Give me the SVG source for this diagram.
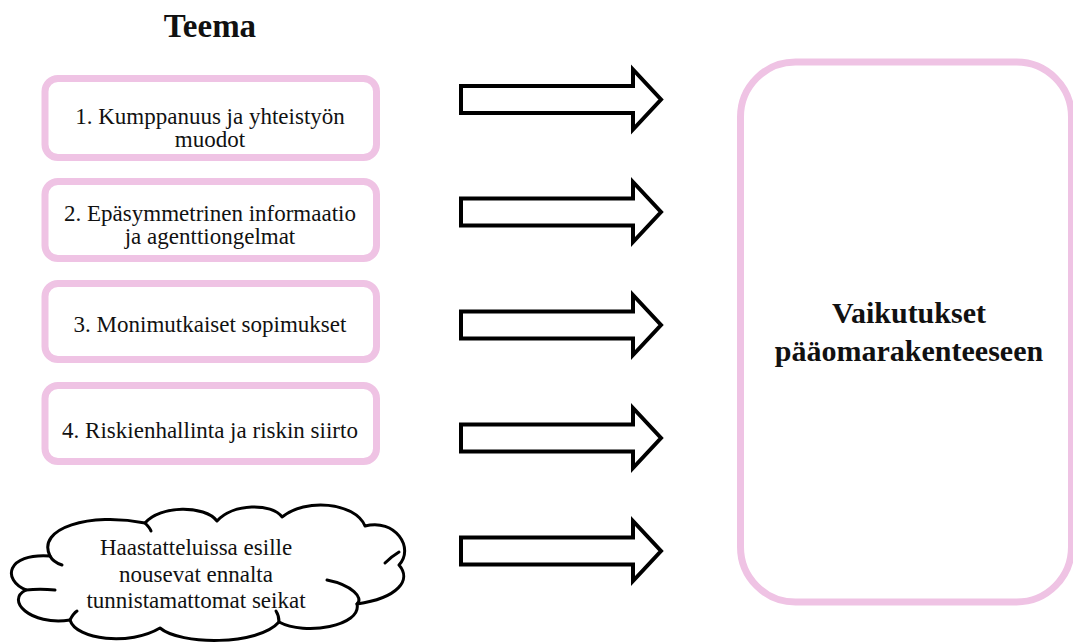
<svg xmlns="http://www.w3.org/2000/svg" width="1073" height="644" viewBox="0 0 1073 644">
  <style>
    .box { fill: #ffffff; stroke: #EFC3E4; stroke-width: 7; }
    .txt { font-family: "Liberation Serif", "Times New Roman", serif; font-size: 23px; fill: #111111; text-anchor: middle; }
    .bold { font-family: "Liberation Serif", "Times New Roman", serif; font-weight: bold; fill: #111111; text-anchor: middle; }
    .arrow { fill: #ffffff; stroke: #000000; stroke-width: 4; stroke-linejoin: miter; }
    .cloud { fill: #ffffff; stroke: #000000; stroke-width: 3; stroke-linecap: round; stroke-linejoin: round; }
    .hook { fill: none; stroke: #000000; stroke-width: 3; stroke-linecap: round; }
  </style>
  <defs>
    <path id="arr" d="M461,-13.5 H633 V-30 L661,0 L633,30 V13.5 H461 Z"/>
  </defs>
  <rect width="1073" height="644" fill="#ffffff"/>

  <g id="title">
    <text class="bold" x="210" y="37" font-size="33">Teema</text>
  </g>

  <g id="node1">
    <rect class="box" x="45" y="78.5" width="331.5" height="79" rx="13"/>
    <text class="txt" x="210" y="124">1. Kumppanuus ja yhteistyön</text>
    <text class="txt" x="210" y="147">muodot</text>
  </g>
  <g id="node2">
    <rect class="box" x="45" y="181.5" width="331.5" height="77" rx="13"/>
    <text class="txt" x="210" y="221">2. Epäsymmetrinen informaatio</text>
    <text class="txt" x="210" y="244">ja agenttiongelmat</text>
  </g>
  <g id="node3">
    <rect class="box" x="45" y="283.5" width="331.5" height="76" rx="13"/>
    <text class="txt" x="210" y="332">3. Monimutkaiset sopimukset</text>
  </g>
  <g id="node4">
    <rect class="box" x="45" y="385.5" width="331.5" height="76" rx="13"/>
    <text class="txt" x="210" y="438">4. Riskienhallinta ja riskin siirto</text>
  </g>

  <g id="node5">
    <path class="cloud" d="M50,556 C36,528 90,512 145,523 C160,505 205,505 217,521 C233,503 272,503 282,517 C305,498 355,502 365,526 C395,518 415,548 399,565 C412,580 398,598 357,604 C362,626 305,636 279,622 C258,646 180,645 160,628 C130,646 76,640 70,620 C30,626 5,600 26,590 C2,580 6,553 50,556 Z"/>
    <path class="hook" d="M50,556 C52,560 56,563 62,565"/>
    <path class="hook" d="M145,523 C148,526 150,528 151,531"/>
    <path class="hook" d="M26,590 C35,589 45,589 55,590"/>
    <path class="hook" d="M70,620 C72,616 74,613 77,611"/>
    <path class="hook" d="M385,563 C390,558 394,555 399,552"/>
    <path class="hook" d="M327,580 C352,585 364,598 357,604"/>
    <path class="hook" d="M279,622 C279,617 278,614 276,611"/>
    <text class="txt" x="196" y="555">Haastatteluissa esille</text>
    <text class="txt" x="196" y="582">nousevat ennalta</text>
    <text class="txt" x="196" y="608">tunnistamattomat seikat</text>
  </g>

  <g id="node6">
    <rect class="box" x="740.5" y="62" width="331" height="540" rx="55"/>
    <text class="bold" x="909" y="323" font-size="30">Vaikutukset</text>
    <text class="bold" x="909" y="361" font-size="30">pääomarakenteeseen</text>
  </g>

  <g id="connectors">
    <use href="#arr" class="arrow" y="99.5"/>
    <use href="#arr" class="arrow" y="212"/>
    <use href="#arr" class="arrow" y="325"/>
    <use href="#arr" class="arrow" y="438"/>
    <use href="#arr" class="arrow" y="551"/>
  </g>
</svg>
